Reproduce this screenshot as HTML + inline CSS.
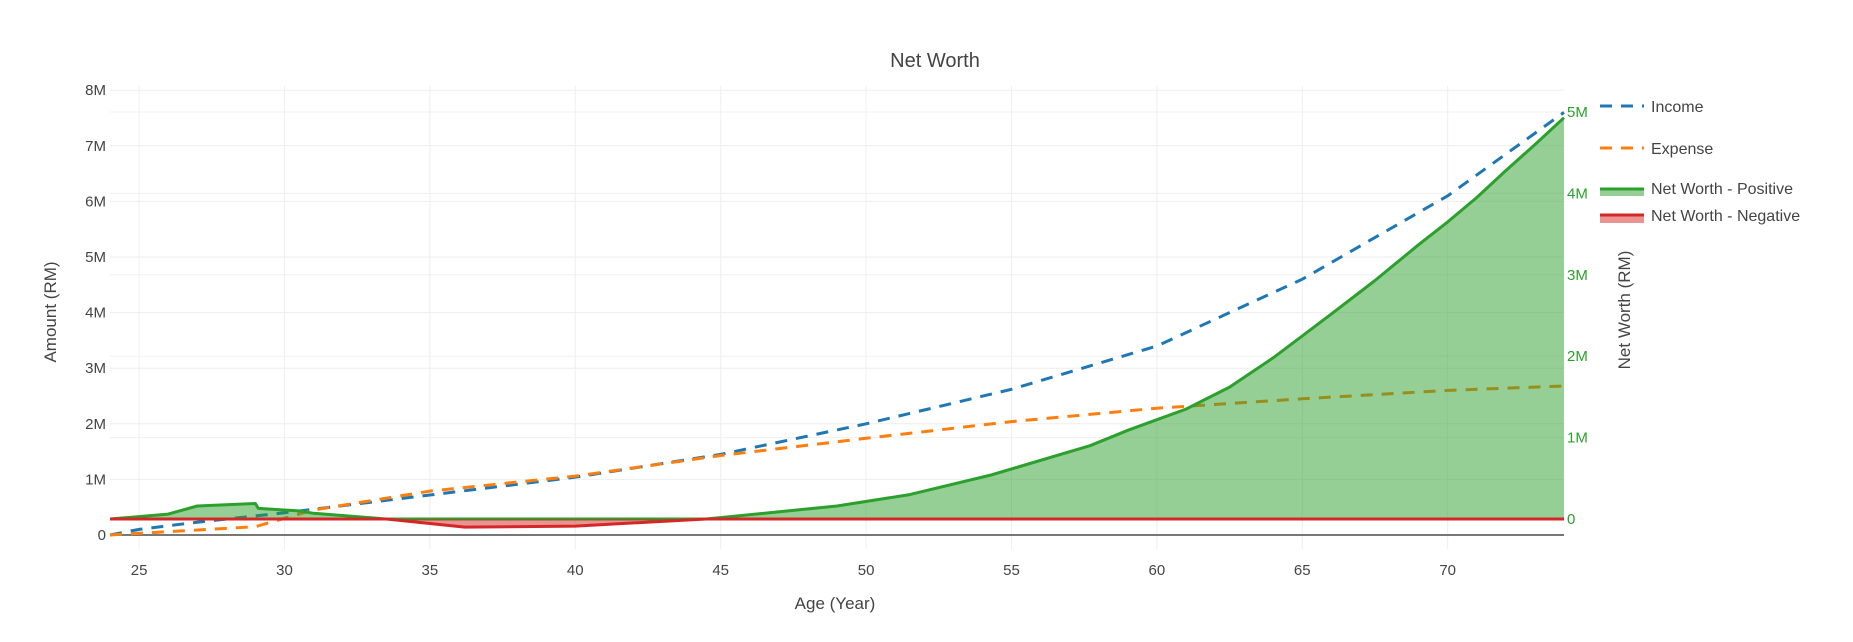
<!DOCTYPE html>
<html><head><meta charset="utf-8"><style>
html,body{margin:0;padding:0;background:#fff;}
svg{display:block;font-family:"Liberation Sans",sans-serif;}
</style></head><body>
<svg id="chart" width="1853" height="642">
<text x="935" y="67" font-size="20" fill="#444" text-anchor="middle">Net Worth</text>
<g id="grid"></g>
<g id="series"></g>
<g id="axes"></g>
<text x="835" y="609" font-size="17" fill="#444" text-anchor="middle">Age (Year)</text>
<text transform="translate(56,312) rotate(-90)" font-size="17" fill="#444" text-anchor="middle">Amount (RM)</text>
<text transform="translate(1630,310) rotate(-90)" font-size="17" fill="#444" text-anchor="middle">Net Worth (RM)</text>
<g>
 <g>
  <line x1="1600" y1="106" x2="1644" y2="106" stroke="#1f77b4" stroke-width="3" stroke-dasharray="12,9"/>
  <text x="1651" y="112" font-size="16" fill="#444">Income</text></g>
 <g>
  <line x1="1600" y1="148" x2="1644" y2="148" stroke="#ff7f0e" stroke-width="3" stroke-dasharray="12,9"/>
  <text x="1651" y="154" font-size="16" fill="#444">Expense</text></g>
 <g>
  <rect x="1600" y="188" width="44" height="8" fill="rgba(44,160,44,0.5)"/>
  <line x1="1600" y1="189" x2="1644" y2="189" stroke="#2ca02c" stroke-width="3"/>
  <text x="1651" y="194" font-size="16" fill="#444">Net Worth - Positive</text></g>
 <g>
  <rect x="1600" y="214" width="44" height="9" fill="rgba(214,39,40,0.5)"/>
  <line x1="1600" y1="215" x2="1644" y2="215" stroke="#d62728" stroke-width="3"/>
  <text x="1651" y="221" font-size="16" fill="#444">Net Worth - Negative</text></g>
</g>
</svg>
<script>
const incomeAges = [24,25,27,30,35,40,45,50,55,60,65,70,74];
const incomeVals = [0,0.1,0.23,0.4,0.72,1.04,1.45,2.0,2.62,3.4,4.6,6.1,7.6];
const expenseAges = [24,25,29,30,31,35,40,45,50,55,60,65,70,74];
const expenseVals = [0,0.03,0.15,0.3,0.45,0.79,1.06,1.43,1.74,2.04,2.28,2.45,2.6,2.68];
const nwAges = [24,26,27,29,29.1,30.5,31,33.5,36.2,40,44.5,49,51.5,54.3,57.7,59,60,61,62.5,64,65,66,67.5,69,70,71,72,73,74];
const nwVals = [0,0.06,0.16,0.19,0.13,0.1,0.07,0,-0.1,-0.087,0,0.16,0.3,0.54,0.9,1.09,1.22,1.35,1.62,1.98,2.25,2.52,2.93,3.37,3.65,3.95,4.28,4.6,4.93];
const xTicks = [25,30,35,40,45,50,55,60,65,70];
const yTicks = [0,1,2,3,4,5,6,7,8];
const y2Ticks = [0,1,2,3,4,5];

const NS='http://www.w3.org/2000/svg';
const L=110,R=1564,T=86,B=549;
const X=a=>L+(a-24)/(74-24)*(R-L);
const Y=v=>535-v*55.6;
const Y2=v=>519-v*81.4;
function mk(tag,attrs,parent){const e=document.createElementNS(NS,tag);for(const k in attrs)e.setAttribute(k,attrs[k]);parent.appendChild(e);return e;}
const grid=document.getElementById('grid'),ser=document.getElementById('series'),axes=document.getElementById('axes');
xTicks.forEach(t=>{
 const g=mk('line',{x1:X(t),x2:X(t),y1:T,y2:B,stroke:'#eee','stroke-width':1},grid);
 
 
 const s=mk('text',{x:X(t),y:575,'font-size':15,fill:'#444','text-anchor':'middle'},axes);s.textContent=t;
 
 
});
y2Ticks.forEach(t=>{
 const g=mk('line',{x1:L,x2:R,y1:Y2(t),y2:Y2(t),stroke:'#f0f0f0','stroke-width':1},grid);
 
 
 const s=mk('text',{x:1567,y:Y2(t)+5,'font-size':15,fill:'#2ca02c'},axes);s.textContent=t===0?'0':t+'M';
 
 
});
yTicks.forEach(t=>{
 if(t>0){const g=mk('line',{x1:L,x2:R,y1:Y(t),y2:Y(t),stroke:'#eee','stroke-width':1},grid);
 
 }
 const s=mk('text',{x:106,y:Y(t)+5,'font-size':15,fill:'#444','text-anchor':'end'},axes);s.textContent=t===0?'0':t+'M';
 
 
});
const z=mk('line',{x1:L,x2:R,y1:Y(0),y2:Y(0),stroke:'#777','stroke-width':2},grid);


function pts(ax,vs,fy){return ax.map((a,i)=>X(a).toFixed(1)+','+fy(vs[i]).toFixed(1)).join(' ');}
const inc=mk('polyline',{points:pts(incomeAges,incomeVals,Y),fill:'none',stroke:'#1f77b4','stroke-width':3,'stroke-dasharray':'12,9'},ser);


const exp=mk('polyline',{points:pts(expenseAges,expenseVals,Y),fill:'none',stroke:'#ff7f0e','stroke-width':3,'stroke-dasharray':'12,9'},ser);


const posV=nwVals.map(v=>Math.max(v,0)),negV=nwVals.map(v=>Math.min(v,0));
const x0=X(nwAges[0]),x1=X(nwAges[nwAges.length-1]);
const pa=mk('polygon',{points:x0+','+Y2(0)+' '+pts(nwAges,posV,Y2)+' '+x1+','+Y2(0),fill:'rgba(44,160,44,0.5)'},ser);


const pl=mk('polyline',{points:pts(nwAges,posV,Y2),fill:'none',stroke:'#2ca02c','stroke-width':3,'stroke-linejoin':'round'},ser);


const na=mk('polygon',{points:x0+','+Y2(0)+' '+pts(nwAges,negV,Y2)+' '+x1+','+Y2(0),fill:'rgba(214,39,40,0.5)'},ser);


const nl=mk('polyline',{points:pts(nwAges,negV,Y2),fill:'none',stroke:'#d62728','stroke-width':3,'stroke-linejoin':'round'},ser);


</script>
</body></html>
